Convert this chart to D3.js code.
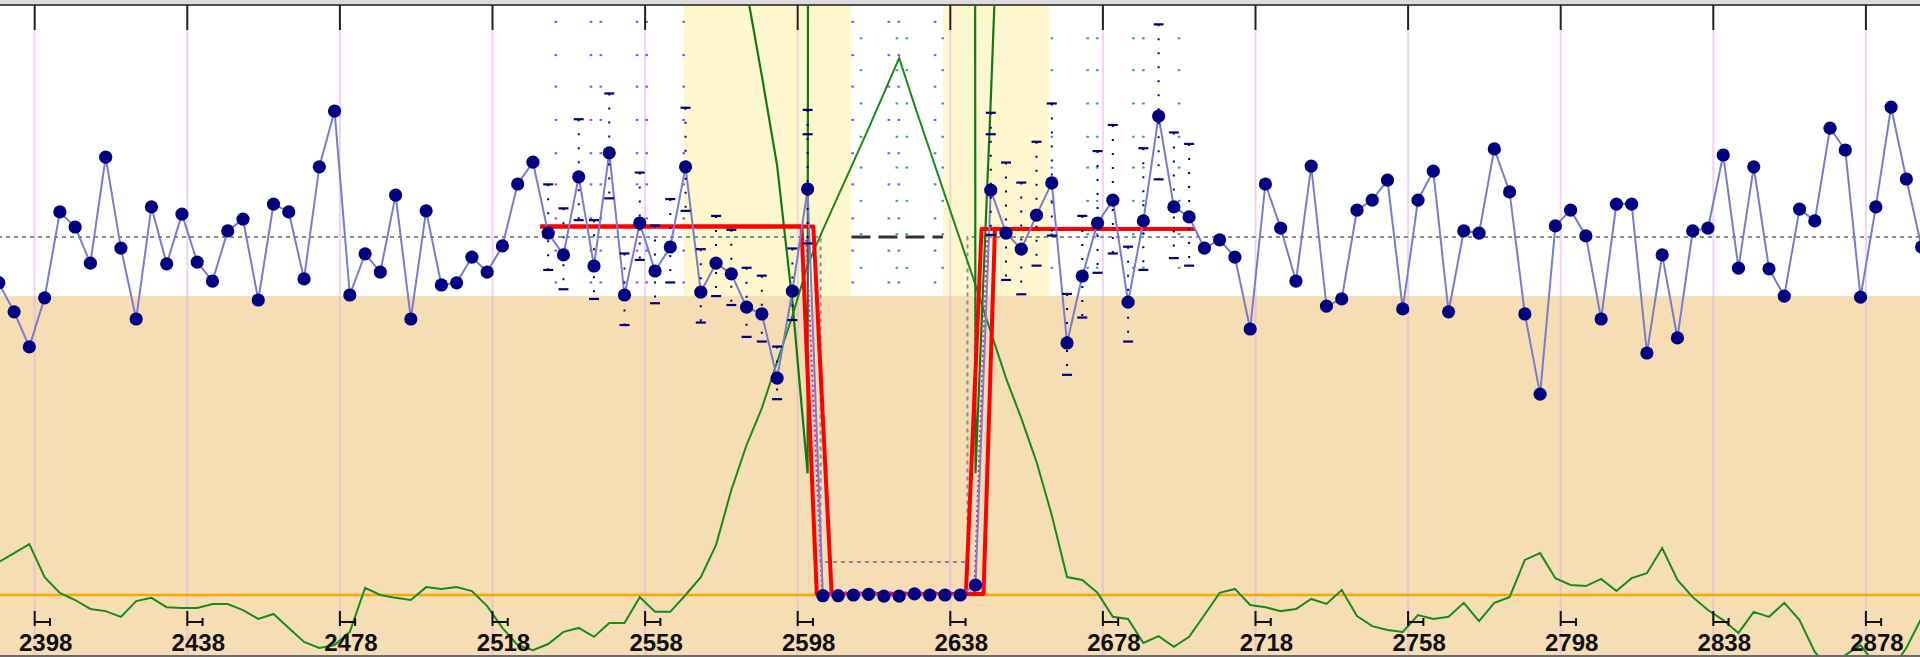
<!DOCTYPE html>
<meta charset="utf-8">
<script src="https://d3js.org/d3.v7.min.js"></script>
<style>
  body { margin: 0; background: #fff; overflow: hidden; }
  svg { display: block; }
</style>
<div id="chart"></div>
<script>

// readings: one every 4 units, first one at 2388.6
var xStart = 2388.6, xStep = 4;

var mainValues = [
  87.2, 79.1, 69.3, 83.0, 107.0, 102.8, 92.7, 122.3, 96.9, 77.1,
  108.4, 92.5, 106.4, 93.0, 87.7, 101.7, 105.0, 82.4, 109.2, 107.0,
  88.3, 119.6, 135.2, 83.8, 95.3, 90.2, 111.7, 77.1, 107.3, 86.6,
  87.2, 94.4, 90.2, 97.5, 114.8, 120.9, 101.1, 95.0, 116.8, 91.9,
  123.5, 83.8, 103.9, 90.5, 97.2, 119.6, 84.6, 92.7, 89.7, 80.4,
  78.5, 60.6, 84.9, 113.4, -0.2, -0.2, 0, 0.2, -0.3, -0.3,
  0.3, 0, 0, 0, 2.8, 113.1, 101.1, 96.6, 106.1, 115.1,
  70.4, 89.1, 103.9, 110.3, 81.8, 104.5, 133.8, 108.4, 105.6, 96.9,
  99.2, 94.4, 74.3, 114.8, 102.5, 87.7, 119.8, 80.7, 82.7, 107.5,
  110.3, 115.9, 79.9, 110.3, 118.4, 79.1, 101.7, 101.1, 124.6, 112.6,
  78.5, 56.1, 103.1, 107.5, 100.3, 77.1, 109.2, 109.2, 67.6, 95.0,
  71.8, 101.7, 102.5, 122.9, 91.3, 119.6, 91.1, 83.5, 107.8, 104.5,
  130.4, 124.3, 83.2, 108.4, 136.3, 116.2, 97.2
];

var trendValues = [
  9.2, 11.7, 14.2, 5.0, 0.6, -1.4, -3.9, -4.5, -6.1, -1.7,
  -0.8, -3.4, -3.6, -3.6, -2.5, -2.5, -4.2, -6.7, -5.3, -9.2,
  -13.1, -14.8, -14.0, -10.3, 2.0, 0, -0.8, -1.4, 2.2, 1.7,
  2.2, 1.1, -3.1, -9.2, -14.0, -15.4, -13.7, -10.3, -9.2, -11.7,
  -7.8, -7.8, -0.6, -4.7, -4.7, 0, 5.0, 14.0, 29.3, 41.9,
  52.2, 65.1, 77.9, 92.2, 102.0, 111.5, 120.9, 130.4, 140.2, 150.0,
  136.9, 124.3, 111.7, 99.2, 86.6, 73.5, 60.6, 49.4, 37.2, 22.3,
  5.0, 4.2, 0.6, -6.1, -6.7, -13.4, -11.5, -14.5, -11.7, -5.6,
  0.6, 1.7, -2.8, -3.4, -4.5, -3.9, -1.1, -2.5, 1.4, -5.9,
  -8.7, -9.8, -10.3, -5.6, -6.7, -6.1, -2.2, -7.3, -2.2, -0.6,
  9.8, 11.7, 4.7, 2.8, 2.5, 4.5, 1.1, 4.7, 6.1, 13.1,
  4.2, -0.6, -4.2, -7.0, -10.6, -4.7, -6.1, -2.2, -7.0, -15.9,
  -20.9, -16.8, -14.0, -19.6, -20.9, -14.8, -6.4
];

// second green statistic, only around the gap (goes far off scale inside it)
var spikeX = [2584.6, 2588.6, 2592.6, 2596.6, 2600.6, 2604.6, 2640.6, 2644.6, 2648.6, 2652.6];
var spikeValues = [169, 145, 120, 82, 34, 6000, 6000, 34, 138, 251];

// interval bars around the points near the gap
var barX = [2532.6, 2536.6, 2540.6, 2544.6, 2548.6, 2552.6, 2556.6, 2560.6, 2564.6, 2568.6,
            2572.6, 2576.6, 2580.6, 2584.6, 2588.6, 2592.6, 2596.6, 2600.6,
            2648.6, 2652.6, 2656.6, 2660.6, 2664.6, 2668.6, 2672.6, 2676.6, 2680.6,
            2684.6, 2688.6, 2692.6, 2696.6, 2700.6];
var barHigh = [114.7, 108.0, 132.9, 104.7, 140.1, 95.4, 118.0, 103.2, 110.6, 136.1,
               96.6, 105.9, 102.0, 91.4, 89.2, 69.4, 96.8, 135.5,
               134.7, 120.8, 115.2, 126.6, 137.3, 84.1, 105.9, 124.0, 131.3,
               97.3, 124.8, 159.4, 129.2, 126.0];
var barLow = [90.8, 85.4, 104.7, 82.7, 110.8, 75.4, 93.6, 81.5, 87.3, 107.3,
              76.1, 83.5, 81.0, 72.1, 70.8, 54.7, 76.8, 98.2,
              100.6, 88.0, 84.0, 92.0, 100.4, 61.5, 77.5, 90.0, 95.4,
              70.8, 90.8, 116.1, 94.1, 92.0];
var extraDashX = [2600.6, 2648.6];
var extraDashValues = [128.7, 128.7];

// step fits (two bounds) and the central estimate
var redAX = [2530.5, 2599.0, 2603.0, 2642.1, 2646.2, 2702.1];
var redBX = [2530.5, 2602.1, 2606.9, 2646.7, 2649.7, 2702.1];
var redValues = [102.9, 102.9, 0.3, 0.3, 102.2, 102.2];
var fitX = [2600.2, 2604.4, 2644.3, 2647.7];
var fitValues = [99.2, 0.8, 0.8, 100.6];

// reference levels
var meanLevel = 100, lowerLimit = 83.5, zeroLevel = 0, gapLevel = 9.2;
var gapStart = 2604.0, gapEnd = 2642.5;
var bands = [[2568.1, 2612.1], [2636.1, 2663.9]];

// columns of small markers
var purpleCols = [2534.6, 2543.8, 2546.4, 2555.9, 2558.4, 2568.1, 2612.4, 2621.9, 2624.5, 2634.0];
var purpleRows = [160.1, 150.8, 142.0, 132.7, 123.4, 114.7, 105.2, 96.2, 87.3];
var tealCols = [2614.6, 2624.0, 2626.6, 2636.0, 2664.6, 2674.0, 2676.5, 2686.0, 2688.6, 2698.0];
var tealRows = [155.5, 146.6, 137.3, 128.0, 119.4, 110.1, 100.8, 91.4];

var tickValues = [2398, 2438, 2478, 2518, 2558, 2598, 2638, 2678, 2718, 2758, 2798, 2838, 2878];

var width = 1920, height = 657;

var x = d3.scaleLinear().domain([2398, 2878]).range([34.7, 1865.9]);
var y = d3.scaleLinear().domain([0, 100]).range([595, 237]);

var svg = d3.select("#chart")
  .append("svg")
    .attr("width", width)
    .attr("height", height);

svg.append("clipPath").attr("id", "plot")
  .append("rect").attr("x", 0).attr("y", 6).attr("width", width).attr("height", 649);

var plot = svg.append("g").attr("clip-path", "url(#plot)");

plot.append("rect").attr("width", width).attr("height", height).attr("fill", "#fff");

// pale yellow bands
plot.selectAll(".band")
  .data(bands)
  .enter().append("rect")
    .attr("x", function(d) { return x(d[0]); })
    .attr("width", function(d) { return x(d[1]) - x(d[0]); })
    .attr("y", 0)
    .attr("height", y(lowerLimit))
    .attr("fill", "#fff8ce");

// below the lower limit
plot.append("rect")
  .attr("x", 0).attr("width", width)
  .attr("y", y(lowerLimit)).attr("height", height - y(lowerLimit))
  .attr("fill", "#f5deb3");

// vertical grid
plot.selectAll(".grid")
  .data(tickValues)
  .enter().append("line")
    .attr("x1", function(d) { return x(d); })
    .attr("x2", function(d) { return x(d); })
    .attr("y1", 30).attr("y2", height)
    .attr("stroke", "#e0b0e8")
    .attr("stroke-opacity", 0.55)
    .attr("stroke-width", 2);

// dot columns
function dotColumns(cols, rows, color) {
  var pts = [];
  cols.forEach(function(c) { rows.forEach(function(r) { pts.push([c, r]); }); });
  plot.selectAll(null)
    .data(pts)
    .enter().append("rect")
      .attr("x", function(d) { return x(d[0]) - 1.3; })
      .attr("y", function(d) { return y(d[1]) - 1; })
      .attr("width", 2.6).attr("height", 2)
      .attr("fill", color);
}
dotColumns(purpleCols, purpleRows, "#a040f0");
dotColumns(tealCols, tealRows, "#30a0a0");

// mean level, dropping to the gap level inside the gap
var meanPath = [[2380, meanLevel], [gapStart, meanLevel], [gapStart, gapLevel],
                [gapEnd, gapLevel], [gapEnd, meanLevel], [2900, meanLevel]];
plot.append("path")
  .datum(meanPath)
  .attr("fill", "none")
  .attr("stroke", "#8c8c8c")
  .attr("stroke-width", 2)
  .attr("stroke-dasharray", "4,4")
  .attr("d", d3.line().x(function(d) { return x(d[0]); }).y(function(d) { return y(d[1]); }));

plot.append("line")
  .attr("x1", x(bands[0][1])).attr("x2", x(bands[1][0]))
  .attr("y1", y(meanLevel)).attr("y2", y(meanLevel))
  .attr("stroke", "#333")
  .attr("stroke-width", 3)
  .attr("stroke-dasharray", "19,8");

// zero line
plot.append("line")
  .attr("x1", 0).attr("x2", width)
  .attr("y1", y(zeroLevel)).attr("y2", y(zeroLevel))
  .attr("stroke", "#ffa500")
  .attr("stroke-width", 2.5);

var lineIdx = d3.line()
  .x(function(d, i) { return x(xStart + xStep * i); })
  .y(function(d) { return y(d); });

// green statistics
plot.append("path")
  .datum(trendValues)
  .attr("fill", "none")
  .attr("stroke", "#1a8a1a")
  .attr("stroke-width", 2)
  .attr("d", lineIdx);

plot.append("path")
  .datum(spikeX.map(function(d, i) { return [d, spikeValues[i]]; }))
  .attr("fill", "none")
  .attr("stroke", "#137a13")
  .attr("stroke-width", 2.2)
  .attr("d", d3.line().x(function(d) { return x(d[0]); }).y(function(d) { return y(d[1]); }));

// red step bounds
[redAX, redBX].forEach(function(xs) {
  plot.append("path")
    .datum(xs.map(function(d, i) { return [d, redValues[i]]; }))
    .attr("fill", "none")
    .attr("stroke", "#ff0000")
    .attr("stroke-width", 4)
    .attr("stroke-linejoin", "round")
    .attr("d", d3.line().x(function(d) { return x(d[0]); }).y(function(d) { return y(d[1]); }));
});

plot.append("path")
  .datum(fitX.map(function(d, i) { return [d, fitValues[i]]; }))
  .attr("fill", "none")
  .attr("stroke", "#ff00cc")
  .attr("stroke-width", 2)
  .attr("stroke-dasharray", "2,3")
  .attr("d", d3.line().x(function(d) { return x(d[0]); }).y(function(d) { return y(d[1]); }));

// main series line
plot.append("path")
  .datum(mainValues)
  .attr("fill", "none")
  .attr("stroke", "#7b7bcb")
  .attr("stroke-width", 2)
  .attr("d", lineIdx);

// interval bars
var bars = plot.selectAll(".bar")
  .data(barX.map(function(d, i) { return {x: d, hi: barHigh[i], lo: barLow[i]}; }))
  .enter().append("g");
bars.append("line")
  .attr("x1", function(d) { return x(d.x); })
  .attr("x2", function(d) { return x(d.x); })
  .attr("y1", function(d) { return y(d.hi); })
  .attr("y2", function(d) { return y(d.lo); })
  .attr("stroke", "#000080")
  .attr("stroke-width", 2)
  .attr("stroke-dasharray", "2,12");
bars.append("line")
  .attr("x1", function(d) { return x(d.x) - 5; })
  .attr("x2", function(d) { return x(d.x) + 5; })
  .attr("y1", function(d) { return y(d.hi); })
  .attr("y2", function(d) { return y(d.hi); })
  .attr("stroke", "#000080").attr("stroke-width", 2.2);
bars.append("line")
  .attr("x1", function(d) { return x(d.x) - 5; })
  .attr("x2", function(d) { return x(d.x) + 5; })
  .attr("y1", function(d) { return y(d.lo); })
  .attr("y2", function(d) { return y(d.lo); })
  .attr("stroke", "#000080").attr("stroke-width", 2.2);

plot.selectAll(".extra")
  .data(extraDashX)
  .enter().append("line")
    .attr("x1", function(d) { return x(d) - 5; })
    .attr("x2", function(d) { return x(d) + 5; })
    .attr("y1", function(d, i) { return y(extraDashValues[i]); })
    .attr("y2", function(d, i) { return y(extraDashValues[i]); })
    .attr("stroke", "#000080").attr("stroke-width", 2.2);

// points
plot.selectAll(".pt")
  .data(mainValues)
  .enter().append("circle")
    .attr("cx", function(d, i) { return x(xStart + xStep * i); })
    .attr("cy", function(d) { return y(d); })
    .attr("r", 6.6)
    .attr("fill", "#000080");

// frame
svg.append("rect").attr("x", 0).attr("y", 0).attr("width", width).attr("height", 4).attr("fill", "#dcdcdc");
svg.append("line").attr("x1", 0).attr("x2", width).attr("y1", 5).attr("y2", 5)
  .attr("stroke", "#505050").attr("stroke-width", 2);
svg.append("line").attr("x1", 0).attr("x2", width).attr("y1", 656).attr("y2", 656)
  .attr("stroke", "#6a6a6a").attr("stroke-width", 2);

// top ticks
svg.selectAll(".ttick")
  .data(tickValues)
  .enter().append("line")
    .attr("x1", function(d) { return x(d); })
    .attr("x2", function(d) { return x(d); })
    .attr("y1", 5).attr("y2", 30)
    .attr("stroke", "#222")
    .attr("stroke-width", 2);

// bottom tick brackets (one reading step wide)
var step = x(2398 + xStep) - x(2398);
svg.selectAll(".btick")
  .data(tickValues)
  .enter().append("path")
    .attr("d", function(d) {
      var px = x(d);
      return "M" + px + ",611V626M" + px + ",622H" + (px + step) + "M" + (px + step) + ",618V626";
    })
    .attr("fill", "none")
    .attr("stroke", "#111")
    .attr("stroke-width", 2);

svg.selectAll(".lbl")
  .data(tickValues)
  .enter().append("text")
    .attr("x", function(d) { return x(d) + 11; })
    .attr("y", 651)
    .attr("text-anchor", "middle")
    .style("font-family", "'Liberation Sans', Arial, sans-serif")
    .style("font-weight", "bold")
    .style("font-size", "24px")
    .attr("fill", "#111")
    .text(function(d) { return d; });

</script>
